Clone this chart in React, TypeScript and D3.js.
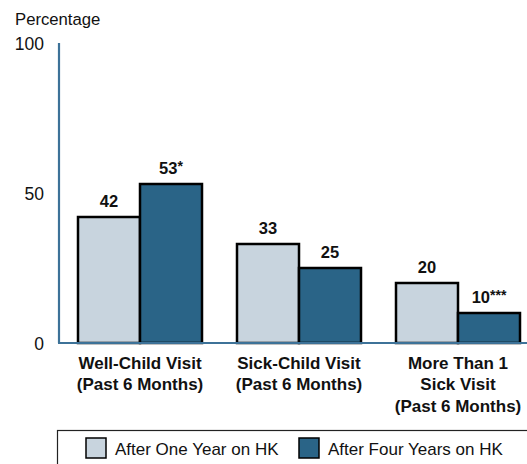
import React from "react";
import * as d3 from "d3";

const categories = [
  ["Well-Child Visit", "(Past 6 Months)"],
  ["Sick-Child Visit", "(Past 6 Months)"],
  ["More Than 1", "Sick Visit", "(Past 6 Months)"],
];
const seriesNames = ["After One Year on HK", "After Four Years on HK"];
const oneYear = [42, 33, 20];
const fourYears = [53, 25, 10];
const fourYearsMarks = ["*", "", "***"];
const yTicks = [0, 50, 100];

const colors = ["#c8d4de", "#2a6487"];
const axisColor = "#3d7298";

export default function App() {
  const W = 527, H = 464;
  const y = d3.scaleLinear().domain([0, 100]).range([343, 43]);
  const groupStarts = d3.scaleLinear().domain([0, 2]).range([78, 396]);
  const barW = 62;
  const font = "Helvetica, Arial, 'Liberation Sans', sans-serif";
  const series = [oneYear, fourYears];

  return (
    <svg width={W} height={H} style={{ position: "absolute", left: 0, top: 0 }} fontFamily={font}>
      <rect x={0} y={0} width={W} height={H} fill="#fff" />
      <text x={15} y={25} fontSize={16.7} fill="#111">Percentage</text>
      {yTicks.map((t) => (
        <text key={t} x={44} y={y(t) + 6.5} fontSize={17.5} textAnchor="end" fill="#111">{t}</text>
      ))}
      {series.map((vals, si) =>
        vals.map((v, i) => {
          const x0 = groupStarts(i) + si * barW;
          return (
            <g key={`${si}-${i}`}>
              <rect x={x0} y={y(v)} width={barW} height={y(0) - y(v)} fill={colors[si]} stroke="#000" strokeWidth={2.5} />
              <text x={x0 + barW / 2} y={y(v) - 10.5} fontSize={16.5} fontWeight="bold" textAnchor="middle" fill="#111">
                {v}
                {si === 1 && fourYearsMarks[i] ? <tspan fontSize={14} dy={-3}>{fourYearsMarks[i]}</tspan> : null}
              </text>
            </g>
          );
        })
      )}
      <line x1={59} y1={43} x2={59} y2={343} stroke={axisColor} strokeWidth={2.2} />
      <line x1={58} y1={343} x2={W} y2={343} stroke={axisColor} strokeWidth={2.2} />
      {categories.map((lines, i) => (
        <text key={i} fontSize={17} fontWeight="bold" textAnchor="middle" fill="#111">
          {lines.map((l, j) => (
            <tspan key={j} x={groupStarts(i) + barW} y={369 + j * 21.3}>{l}</tspan>
          ))}
        </text>
      ))}
      <rect x={57.5} y={430.5} width={500} height={60} fill="#fff" stroke="#222" strokeWidth={1.2} />
      {seriesNames.map((n, i) => {
        const sx = i === 0 ? 86 : 299;
        return (
          <g key={n}>
            <rect x={sx} y={438} width={20} height={20} fill={colors[i]} stroke="#000" strokeWidth={1.5} />
            <text x={sx + 29} y={455} fontSize={17} fill="#111">{n}</text>
          </g>
        );
      })}
    </svg>
  );
}
